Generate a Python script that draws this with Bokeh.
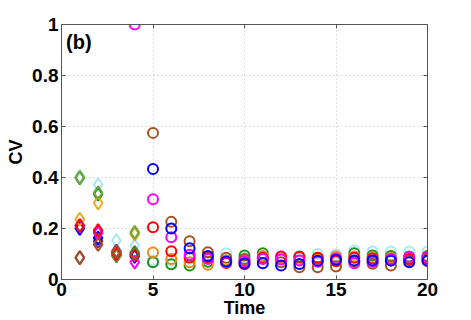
import numpy as np
from bokeh.plotting import figure
from bokeh.models import LinearAxis, Label, Range1d, FixedTicker
from bokeh.embed import file_html
from bokeh.resources import INLINE

# ---- data ----
x_diamond = [1, 2, 3, 4]
diamond_series = {
    "lightcyan": [0.405, 0.372, 0.153, 0.133],
    "purple":    [0.086, 0.150, 0.112, 0.098],
    "green":     [0.398, 0.335, 0.092, 0.106],
    "blue":      [0.200, 0.163, 0.100, 0.090],
    "magenta":   [0.210, 0.183, 0.104, 0.068],
    "yorange":   [0.236, 0.300, 0.098, 0.178],
    "olive":     [0.400, 0.340, 0.094, 0.185],
    "red":       [0.212, 0.192, 0.100, 0.095],
    "brown":     [0.085, 0.137, 0.108, 0.100],
}
diamond_colors = {
    "lightcyan": "#aae6fa", "purple": "#7a2e9a", "green": "#1a901c",
    "blue": "#0000ff", "magenta": "#ff00ff", "yorange": "#f0a818",
    "olive": "#6ea83a", "red": "#ff0000", "brown": "#a5501e",
}

x_circle = [4, 5, 6, 7, 8, 9, 10, 11, 12, 13, 14, 15, 16, 17, 18, 19, 20]
nan = float("nan")
circle_series = {
    "lightcyan": [nan, 0.075, 0.074, 0.080, 0.085, 0.103, 0.085, 0.085, 0.080, 0.082, 0.100, 0.098, 0.114, 0.110, 0.110, 0.110, 0.110],
    "green":     [nan, 0.068, 0.060, 0.055, 0.070, 0.075, 0.094, 0.103, 0.080, 0.090, 0.085, 0.080, 0.103, 0.094, 0.092, 0.090, 0.092],
    "orange":    [nan, 0.106, 0.080, 0.068, 0.058, 0.075, 0.075, 0.092, 0.082, 0.075, 0.080, 0.090, 0.090, 0.085, 0.085, 0.082, 0.085],
    "brown":     [nan, 0.575, 0.226, 0.150, 0.107, 0.085, 0.080, 0.082, 0.068, 0.048, 0.048, 0.051, 0.072, 0.062, 0.055, 0.075, 0.072],
    "red":       [nan, 0.205, 0.111, 0.086, 0.086, 0.065, 0.060, 0.085, 0.090, 0.088, 0.085, 0.072, 0.085, 0.082, 0.078, 0.080, 0.082],
    "magenta":   [1.000, 0.315, 0.166, 0.097, 0.080, 0.068, 0.072, 0.080, 0.078, 0.075, 0.070, 0.082, 0.064, 0.070, 0.080, 0.088, 0.088],
    "blue":      [nan, 0.433, 0.200, 0.123, 0.092, 0.071, 0.064, 0.064, 0.055, 0.061, 0.074, 0.077, 0.075, 0.075, 0.074, 0.068, 0.075],
}
circle_colors = {
    "lightcyan": "#aae6fa", "green": "#1a901c", "orange": "#ee8a10",
    "brown": "#a5501e", "red": "#ff0000", "magenta": "#ff00ff", "blue": "#0000ff",
}

x_ticks = [0, 5, 10, 15, 20]
y_ticks = [0, 0.2, 0.4, 0.6, 0.8, 1]
y_tick_labels = {0: "0", 0.2: "0.2", 0.4: "0.4", 0.6: "0.6", 0.8: "0.8", 1: "1"}

FONT = "Liberation Sans"

p = figure(width=471, height=320, output_backend="svg", toolbar_location=None,
           x_range=Range1d(0, 20), y_range=Range1d(0, 1),
           min_border_left=61, min_border_right=44, min_border_top=24, min_border_bottom=41)
p.background_fill_color = "white"
p.border_fill_color = "white"
p.outline_line_color = "#555555"
p.outline_line_width = 1

for ax, lab in ((p.xaxis[0], "Time"), (p.yaxis[0], "CV")):
    ax.axis_label = lab
    ax.axis_label_text_font = FONT
    ax.axis_label_text_font_style = "bold"
    ax.axis_label_text_font_size = "18px"
    ax.axis_label_text_color = "black"
    ax.major_label_text_font = FONT
    ax.major_label_text_font_style = "bold"
    ax.major_label_text_font_size = "19px"
    ax.major_label_text_color = "black"
    ax.major_tick_in = 4
    ax.major_tick_out = 0
    ax.minor_tick_line_color = None
    ax.axis_line_color = "#555555"
    ax.major_tick_line_color = "#555555"
p.xaxis[0].ticker = FixedTicker(ticks=x_ticks)
p.yaxis[0].ticker = FixedTicker(ticks=y_ticks)
p.yaxis[0].major_label_overrides = y_tick_labels
p.xaxis[0].major_label_standoff = 3
p.xaxis[0].axis_label_standoff = -1
p.yaxis[0].major_label_standoff = 3
p.yaxis[0].axis_label_standoff = 3

for loc, tk in (("right", y_ticks), ("above", x_ticks)):
    a = LinearAxis(ticker=FixedTicker(ticks=tk),
                   major_label_overrides={t: "" for t in tk},
                   major_label_text_font_size="1px",
                   major_tick_in=4, major_tick_out=0, minor_tick_line_color=None,
                   axis_line_color="#555555", major_tick_line_color="#555555",
                   major_label_standoff=0)
    p.add_layout(a, loc)

p.xgrid.ticker = FixedTicker(ticks=x_ticks)
p.ygrid.ticker = FixedTicker(ticks=y_ticks)
for g in (p.xgrid[0], p.ygrid[0]):
    g.grid_line_color = "#bbbbbb"
    g.grid_line_dash = "1 3"
    g.grid_line_width = 1

for name, ys in diamond_series.items():
    p.scatter(x_diamond, ys, marker="diamond", size=13, fill_color=None,
              line_color=diamond_colors[name], line_width=2)

for name, ys in circle_series.items():
    p.scatter(x_circle, ys, marker="circle", size=10, fill_color=None,
              line_color=circle_colors[name], line_width=2)

p.add_layout(Label(x=0.25, y=0.975, text="(b)", text_font=FONT, text_font_style="bold",
                   text_font_size="20px", text_baseline="top", text_color="black"))

open("out.html", "w").write(file_html(p, INLINE))
